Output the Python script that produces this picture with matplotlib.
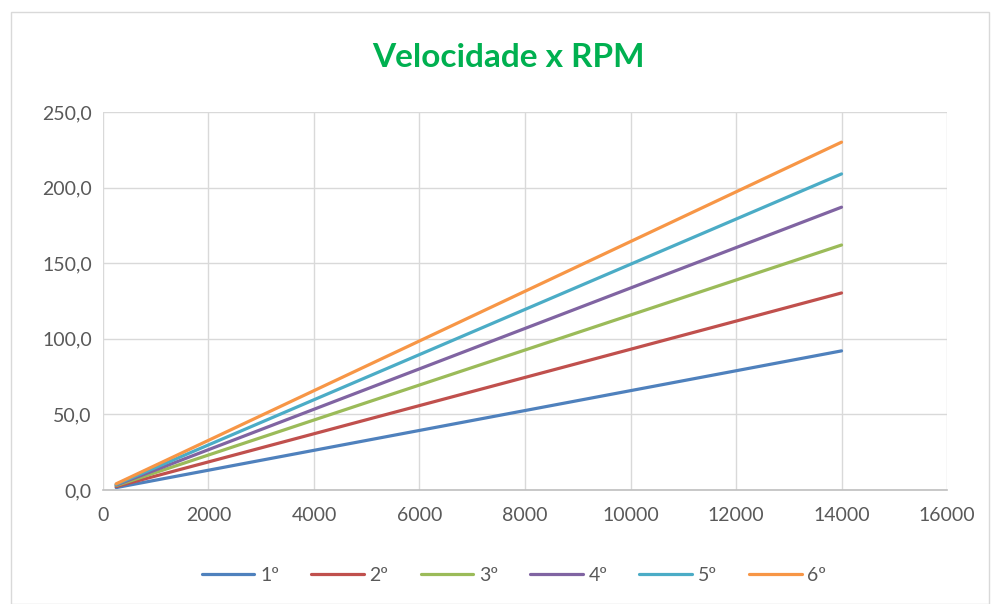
import matplotlib.pyplot as plt
from matplotlib.patches import Rectangle
from matplotlib.ticker import FuncFormatter

plt.rcParams['font.family'] = ['Lato', 'DejaVu Sans']

rpm = [250, 14000]
marcha_1 = [1.6, 92.0]
marcha_2 = [2.3, 130.3]
marcha_3 = [2.9, 162.0]
marcha_4 = [3.3, 187.0]
marcha_5 = [3.7, 209.0]
marcha_6 = [4.1, 230.0]
labels = ['1º', '2º', '3º', '4º', '5º', '6º']
colors = ['#4F81BD', '#C0504D', '#9BBB59', '#8064A2', '#4BACC6', '#F79646']

fig = plt.figure(figsize=(9.93, 6.04), dpi=100)
ax = fig.add_axes([0.1037, 0.1887, 0.85, 0.626])

series = [marcha_1, marcha_2, marcha_3, marcha_4, marcha_5, marcha_6]
for vals, lab, c in zip(series, labels, colors):
    ax.plot(rpm, vals, color=c, lw=2.3, label=lab, solid_capstyle='round')

ax.set_xlim(0, 16000)
ax.set_ylim(0, 250)
ax.set_xticks(range(0, 16001, 2000))
ax.set_yticks(range(0, 251, 50))
ax.yaxis.set_major_formatter(FuncFormatter(lambda v, p: f'{v:.1f}'.replace('.', ',')))
ax.grid(True, color='#d9d9d9', lw=1)
ax.set_axisbelow(True)
for s in ['top', 'right', 'left']:
    ax.spines[s].set_visible(False)
ax.spines['bottom'].set_color('#bfbfbf')
ax.spines['bottom'].set_linewidth(1.2)
ax.tick_params(length=0, labelsize=14, colors='#595959')
ax.tick_params(axis='x', pad=12)
ax.tick_params(axis='y', pad=8)

fig.text(0.512, 0.905, 'Velocidade x RPM', ha='center', va='center',
         fontsize=24, fontweight='bold', color='#00B050')

ax.legend(loc='center', bbox_to_anchor=(0.487, -0.225), ncol=6, frameon=False,
          fontsize=14, handlelength=2.7, columnspacing=1.65, handletextpad=0.3,
          labelcolor='#595959')

fig.patches.append(Rectangle((0.011, 0.0), 0.985, 0.98, transform=fig.transFigure,
                             fill=False, edgecolor='#d9d9d9', lw=1))

fig.savefig('out.png', dpi=100)
